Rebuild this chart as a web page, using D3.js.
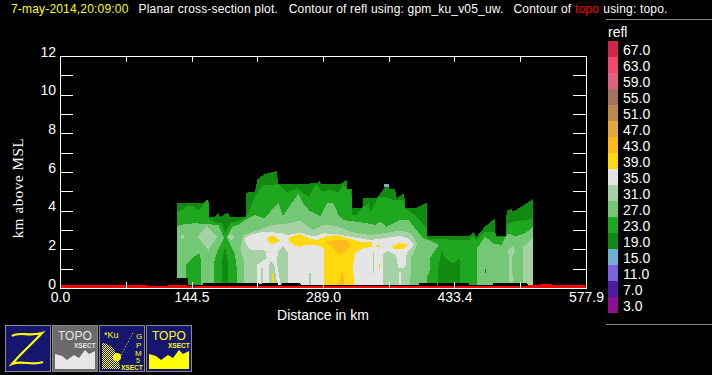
<!DOCTYPE html>
<html>
<head>
<meta charset="utf-8">
<script src="https://cdn.jsdelivr.net/npm/d3@7"></script>
<style>
  html, body { margin: 0; padding: 0; background: black; overflow: hidden; }
  text { font-family: "Liberation Sans", sans-serif; fill: white; }
</style>
</head>
<body>
<div id="chart"></div>
<script>
// legend levels and colours (top to bottom)
const levels = [67, 63, 59, 55, 51, 47, 43, 39, 35, 31, 27, 23, 19, 15, 11, 7, 3];
const levelColors = ["#cf2748", "#f2476f", "#df607f", "#a67260", "#bd8a4c", "#e3a73a", "#fdbb1c", "#fdd90e",
  "#e5e5e5", "#a5d2a5", "#74c774", "#1fa71f", "#128a12", "#6fb0d2", "#7b63e0", "#4b1fa0", "#8b0f8f"];

const xTicks = [0, 72.24, 144.5, 216.7, 289, 361.2, 433.4, 505.7, 577.9];
const xLabels = [0, 144.5, 289, 433.4, 577.9];
const yTicks = [0, 1, 2, 3, 4, 5, 6, 7, 8, 9, 10, 11, 12];
const yLabels = [0, 2, 4, 6, 8, 10, 12];

// contour outlines, [distance km, height km]
const refl19Outer = [[128.2,0],[128.2,4.41],[157.5,4.41],[163,4.6],[163.7,3.69],[170.3,3.69],[174,3.9],[175.8,3.65],[183.8,3.9],[186.8,3.69],[204.4,3.69],[204.4,4.93],[214.2,4.98],[216.8,5.62],[225.2,5.9],[238,6.05],[239.9,5.38],[282,5.41],[285.6,5.58],[286.4,5.38],[307.6,5.38],[314.9,5.58],[315.7,5.12],[320.4,5.12],[321.1,4.12],[332.5,4.12],[333.2,4.67],[348.6,4.67],[356.3,5.15],[357,5.24],[361.4,5.24],[361.4,5.12],[368,5.12],[369.9,4.64],[378.3,4.9],[379,4.12],[390,4.12],[402.8,4.41],[403.2,2.69],[450.4,2.69],[454,2.91],[457,2.62],[466.9,3.17],[477.9,3.6],[478.6,2.69],[490,2.69],[490.7,4.03],[496.2,4.07],[498,3.95],[512.7,4.38],[519.3,4.6],[519.3,0]];

const refl23Outer = [[128.2,0],[128.2,3.98],[134,4.03],[139,4.24],[147,4.21],[152,4.0],[157,4.29],[163,4.6],[164,3.6],[172,3.35],[178,3.35],[181,2.83],[187,3.35],[194,3.43],[201.5,3.6],[204.4,3.69],[210.6,4.29],[214.3,4.73],[218,5.0],[223,5.33],[234,5.33],[240,5.38],[249,4.93],[260,5.15],[273,4.72],[282,5.38],[288,4.98],[298,5.1],[306,4.93],[311,5.38],[315.7,5.12],[320,5.12],[321,3.78],[326,3.78],[332.5,4.2],[339,4.38],[341,3.95],[350,4.69],[357,4.72],[368,4.52],[377,4.58],[379,4.12],[390,3.78],[399,3.34],[403,3.09],[404,2.55],[417,2.52],[450,2.48],[454,2.69],[458,2.48],[467,2.91],[478,2.91],[479,2.62],[490,2.62],[491,3.28],[498,3.43],[513,3.52],[519.3,3.6],[519.3,0]];

const refl27Left = [[128.2,0],[128.2,3.2],[137,3.3],[148,3.35],[163,3.3],[174,3.26],[180,2.6],[181,2.48],[183,2.6],[189,3.17],[196,3.26],[203,3.52],[214,3.78],[225,3.6],[234,4.12],[240,4.41],[245,3.72],[253,4.29],[262,4.85],[267,4.38],[271,4.2],[273,4.03],[286,3.72],[293,4.38],[300,4.42],[306,3.78],[311,3.52],[326,3.43],[337,3.35],[346,3.26],[352,3.43],[359,3.17],[374,3.52],[383,3.52],[390,3.09],[399,2.57],[405,2.48],[416,2.23],[406.5,1.54],[406.5,0.93],[403,0.5],[403,0]];
const refl27Right = [[458,0],[458,2.05],[467,2.66],[476,2.31],[485,2.23],[492,2.83],[500,2.66],[511,2.83],[519.3,3.14],[519.3,0]];

const refl23LeftCore = [[138.5,0],[138.5,1.2],[145,1.55],[153,1.8],[155,1.45],[155,0]];
const refl23MidCore = [[169.6,0],[169.6,1.36],[172,1.79],[178,2.4],[182,2.74],[187,2.23],[192,1.79],[195,0.76],[195,0]];
const refl19MidCore = [[178,0],[178,1.45],[181.3,2.14],[184.3,1.45],[185,0]];
const refl19RightCore = [[415.6,0],[415.6,1.02],[419.3,1.97],[423,1.54],[432,1.28],[439.5,1.54],[439.5,0]];
const refl19Speck = [[467,0.8],[467,0.98],[468,0.98],[468,0.8]];

const refl31Main = [[202,0],[202,1.45],[198,2.05],[201.5,2.74],[218,3.0],[232.6,3.26],[253,3.35],[264,3.48],[278,3.0],[289,3.26],[304,3.21],[319,2.91],[341,2.74],[355,2.83],[373.6,2.97],[386,2.83],[392.6,2.23],[386,1.62],[384.5,0]];
const refl31Diamond = [[151.3,2.66],[161.2,3.21],[172.9,2.66],[163,1.97]];
const refl31DotLeft = [[132.5,2.66],[134.5,2.8],[136.5,2.66],[134.5,2.52]];
const refl31DotMid = [[184,2.66],[188,2.83],[191.6,2.62],[188,2.45]];
const refl31PatchA = [[492.5,1.97],[497,2.17],[500.6,1.97],[497,1.62],[497,0.76],[499,0],[493,0],[493,1.62]];
const refl31PatchB = [[509,0],[509,2.14],[519.3,2.57],[519.3,0]];

const refl35Main = [[202.2,2.57],[208.8,2.74],[223.4,2.91],[239.9,2.86],[250.9,2.74],[263.7,2.86],[278.3,2.66],[289.3,2.83],[304,2.79],[318.6,2.66],[340.6,2.48],[355.2,2.57],[373.6,2.69],[382.7,2.57],[388.9,2.23],[380.9,1.79],[379.4,1.07],[371.7,1.02],[369.2,1.71],[359.6,1.93],[355.2,1.76],[355.2,0],[250.9,0],[250.9,1.79],[245.4,2.17],[240.7,1.97],[238,1.45],[242.9,0],[239.2,0],[235.5,1.19],[230.8,1.42],[229.7,1.1],[229.7,0],[223.4,0],[223.4,1.02],[220.9,1.02],[220.9,0],[216.1,0],[216.1,1.19],[227.1,1.54],[226,1.93],[207.7,2.0]];
const refl35Strip = [[372.1,0],[372.1,0.85],[374.7,0.85],[374.7,0]];
const refl31StripA = [[274,0],[274,0.76],[276,0.76],[276,0]];
const refl31StripB = [[343.5,0.8],[343.5,1.8],[345,1.8],[345,0.8]];

const refl39Main = [[250.9,2.57],[254.6,2.69],[263.7,2.79],[272.9,2.57],[282,2.48],[291,2.66],[304,2.74],[316.8,2.57],[333.3,2.35],[342.4,2.4],[343.2,2.14],[333.3,2.05],[324.1,1.79],[321.6,1.02],[324.1,0],[290,0],[290,2.05],[282,2.23],[272.9,2.23],[263.7,2.14],[258.2,2.19],[252.7,2.35]];
const refl39SpotA = [[227,2.52],[230.8,2.69],[236.3,2.66],[241.8,2.45],[236.3,2.31],[230.8,2.28]];
const refl39SpotB = [[364.4,2.14],[373.6,2.35],[382.7,2.23],[377.2,2.0],[368,2.0]];
const refl39StripA = [[233.3,0.24],[233.3,0.76],[235.2,0.76],[235.2,0.24]];
const refl39StripB = [[350,0.93],[350,1.24],[351.6,1.24],[351.6,0.93]];
const refl39StripC = [[347,2.14],[347,2.2],[352,2.2],[352,2.14]];

const refl43Main = [[291.2,2.4],[304,2.48],[315,2.48],[320.5,2.23],[311.3,1.79],[305.8,1.76],[298.5,2.14]];
const refl43Low = [[305.8,0],[307.6,0.5],[310.2,0.93],[312,0.5],[312.4,0]];
const refl15Tip = [[356.5,5.24],[356.5,5.38],[361.4,5.38],[361.4,5.24]];

// top edge of the no-data strip under the echo
const noDataFloor = [[128,0.5],[140.5,0.5],[141,0.14],[156.5,0.14],[157,0.26],[216,0.26],[221,0.2],[222,0.26],[239,0.26],[240,0.14],[243,0.14],[244,0.26],[263,0.26],[265,0.14],[394,0.14],[395,0.26],[403,0.26],[414,0.26],[415,0.14],[416,0.26],[449,0.26],[450,0.14],[475,0.14],[476,0.26],[513,0.26],[514,0.14],[520,0.14]];

// topo height along the section
const topoHeight = [[0,0.14],[96.7,0.14],[97,0.1],[118.7,0.1],[119,0.14],[139.5,0.14],[140,0.1],[470,0.1],[513,0.1],[514,0.14],[527,0.14],[528,0.2],[540,0.2],[541,0.14],[577.9,0.14]];

// paint order, lowest level first
const contourLayers = [
  [19, refl19Outer], [23, refl23Outer], [27, refl27Left], [27, refl27Right],
  [23, refl23LeftCore], [23, refl23MidCore], [19, refl19MidCore], [19, refl19RightCore], [19, refl19Speck],
  [31, refl31Main], [31, refl31Diamond], [31, refl31DotLeft], [31, refl31DotMid], [31, refl31PatchA], [31, refl31PatchB],
  [35, refl35Main], [35, refl35Strip], [31, refl31StripA], [31, refl31StripB],
  [39, refl39Main], [39, refl39SpotA], [39, refl39SpotB], [39, refl39StripA], [39, refl39StripB], [39, refl39StripC],
  [43, refl43Main], [43, refl43Low], [15, refl15Tip]
];

const svg = d3.select("#chart").append("svg")
  .attr("width", 712)
  .attr("height", 375)
  .style("display", "block");

svg.append("rect").attr("width", 712).attr("height", 375).attr("fill", "black");

const x = d3.scaleLinear().domain([0, 577.9]).range([60, 586]);
const y = d3.scaleLinear().domain([0, 12]).range([288, 56]);
const color = d3.scaleOrdinal().domain(levels).range(levelColors);

// =====================
// CONTOURS
// =====================
const outline = d3.line().x(d => x(d[0])).y(d => y(d[1]));

svg.append("g")
  .attr("shape-rendering", "crispEdges")
  .selectAll("path")
  .data(contourLayers)
  .join("path")
  .attr("d", d => outline(d[1]) + "Z")
  .attr("fill", d => color(d[0]));

const toGround = d3.area().x(d => x(d[0])).y0(y(0)).y1(d => y(d[1]));

svg.append("path")
  .attr("d", toGround(noDataFloor))
  .attr("fill", "black")
  .attr("shape-rendering", "crispEdges");

svg.append("path")
  .attr("d", toGround(topoHeight))
  .attr("fill", "#ff0000")
  .attr("shape-rendering", "crispEdges");

// =====================
// AXES
// =====================
function styleAxis(g) {
  g.selectAll("path, line").attr("stroke", "white").attr("shape-rendering", "crispEdges");
  g.selectAll("text")
    .attr("fill", "white")
    .style("font-family", '"Liberation Sans", sans-serif')
    .style("font-size", "14px");
}

const xFormat = d => xLabels.includes(d) ? d.toFixed(1) : "";
const yFormat = d => yLabels.includes(d) ? d : "";

svg.append("g")
  .attr("transform", "translate(0,288)")
  .call(d3.axisBottom(x).tickValues(xTicks).tickSizeInner(-6).tickSizeOuter(0).tickPadding(4).tickFormat(xFormat))
  .call(styleAxis);

svg.append("g")
  .attr("transform", "translate(0,56)")
  .call(d3.axisTop(x).tickValues(xTicks).tickSizeInner(-6).tickSizeOuter(0).tickFormat(""))
  .call(styleAxis);

svg.append("g")
  .attr("transform", "translate(60,0)")
  .call(d3.axisLeft(y).tickValues(yTicks).tickSizeInner(-13).tickSizeOuter(0).tickPadding(4).tickFormat(yFormat))
  .call(styleAxis)
  .selectAll("text")
  .attr("dy", "0");

svg.append("g")
  .attr("transform", "translate(586,0)")
  .call(d3.axisRight(y).tickValues(yTicks).tickSizeInner(-13).tickSizeOuter(0).tickFormat(""))
  .call(styleAxis);

svg.append("text")
  .attr("x", 323)
  .attr("y", 320)
  .attr("text-anchor", "middle")
  .style("font-size", "14px")
  .text("Distance in km");

svg.append("text")
  .attr("transform", "translate(23,188) rotate(-90)")
  .attr("text-anchor", "middle")
  .style("font-family", '"Liberation Serif", serif')
  .style("font-size", "15px")
  .style("letter-spacing", "0.6px")
  .text("km above MSL");

// =====================
// TITLE
// =====================
const titleParts = [
  {x: 11, text: "7-may-2014,20:09:00", fill: "#ffff00"},
  {x: 138.5, text: "Planar cross-section plot.", fill: "white"},
  {x: 288.7, text: "Contour of refl using: gpm_ku_v05_uw.", fill: "white"},
  {x: 513.5, text: "Contour of", fill: "white"},
  {x: 575, text: "topo", fill: "#ff0000"},
  {x: 603.3, text: "using: topo.", fill: "white"}
];

svg.selectAll(".title-part")
  .data(titleParts)
  .join("text")
  .attr("class", "title-part")
  .attr("x", d => d.x)
  .attr("y", 13)
  .style("font-size", "12px")
  .style("letter-spacing", "0.18px")
  .style("fill", d => d.fill)
  .text(d => d.text);

// =====================
// LEGEND
// =====================
const legendY = d3.scaleBand().domain(levels).range([41, 313]);

svg.append("line")
  .attr("x1", 606).attr("x2", 712)
  .attr("y1", 19.5).attr("y2", 19.5)
  .attr("stroke", "#888");

svg.append("line")
  .attr("x1", 606).attr("x2", 712)
  .attr("y1", 324.5).attr("y2", 324.5)
  .attr("stroke", "#888");

svg.append("text")
  .attr("x", 608)
  .attr("y", 37)
  .style("font-size", "14px")
  .text("refl");

svg.selectAll(".swatch")
  .data(levels)
  .join("rect")
  .attr("class", "swatch")
  .attr("x", 608)
  .attr("y", d => legendY(d))
  .attr("width", 10)
  .attr("height", legendY.bandwidth())
  .attr("fill", d => color(d));

svg.selectAll(".swatch-label")
  .data(levels)
  .join("text")
  .attr("class", "swatch-label")
  .attr("x", 623)
  .attr("y", d => legendY(d) + 14)
  .style("font-size", "14px")
  .text(d => d.toFixed(1));

// =====================
// BUTTONS
// =====================
const navy = "#16166e";
const yellow = "#ffff00";

const checker = svg.append("defs").append("pattern")
  .attr("id", "checker")
  .attr("width", 2).attr("height", 2)
  .attr("patternUnits", "userSpaceOnUse");
checker.append("rect").attr("width", 1).attr("height", 1).attr("fill", yellow);
checker.append("rect").attr("x", 1).attr("y", 1).attr("width", 1).attr("height", 1).attr("fill", yellow);

function button(left, fill) {
  const g = svg.append("g").attr("transform", `translate(${left},325)`);
  g.append("rect")
    .attr("x", 0.5).attr("y", 0.5)
    .attr("width", 45).attr("height", 46)
    .attr("fill", fill)
    .attr("stroke", "#8a8a8a");
  return g;
}

function label(g, text, px, py, size, fill) {
  return g.append("text")
    .attr("x", px).attr("y", py)
    .style("font-size", size + "px")
    .style("fill", fill)
    .text(text);
}

const zButton = button(5, navy);
zButton.append("path")
  .attr("d", "M7,11 C14,6 24,12 37,8 C30,16 18,26 7,39 C18,35 26,41 38,37")
  .attr("fill", "none")
  .attr("stroke", yellow)
  .attr("stroke-width", 2.2);

function topoIcon(g, fill, textFill) {
  label(g, "TOPO", 6, 15, 12, textFill);
  label(g, "XSECT", 22, 23, 6.5, textFill).style("font-weight", "bold");
  g.append("path")
    .attr("d", "M3,44 L3,29 L10,31 L15,35 L22,30 L27,33 L33,25 L37,29 L43,26 L43,44 Z")
    .attr("fill", fill);
}

const topoGrey = button(52, "#6a6a6a");
topoIcon(topoGrey, "#e6e6e6", "#e6e6e6");

const gpmButton = button(99, navy);
gpmButton.append("path")
  .attr("d", "M3,44 L3,18 C10,18 20,25 21,44 Z")
  .attr("fill", "url(#checker)");
gpmButton.append("circle")
  .attr("cx", 18).attr("cy", 32).attr("r", 4)
  .attr("fill", yellow);
gpmButton.append("line")
  .attr("x1", 22).attr("y1", 30)
  .attr("x2", 34).attr("y2", 8)
  .attr("stroke", yellow)
  .attr("stroke-dasharray", "1,2");
label(gpmButton, "*Ku", 5, 13, 9, yellow);
label(gpmButton, "G", 37, 14, 8, yellow);
label(gpmButton, "P", 37, 23, 8, yellow);
label(gpmButton, "M", 36, 31, 8, yellow);
label(gpmButton, "5", 37, 38, 7, yellow);
label(gpmButton, "XSECT", 22, 45, 6.5, yellow).style("font-weight", "bold");

const topoYellow = button(146, navy);
topoIcon(topoYellow, yellow, yellow);
</script>
</body>
</html>
